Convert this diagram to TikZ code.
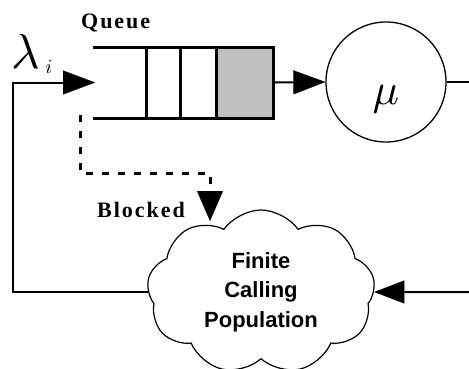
\documentclass[tikz,border=0pt]{standalone}
\usepackage{fontspec}
\usepackage{tikz}
\usetikzlibrary{arrows.meta,positioning,calc,shapes.symbols}
\newfontfamily\tmsfont[LetterSpace=9]{Liberation Serif}
\newfontfamily\arfont{Liberation Sans}
\definecolor{shade}{RGB}{192,192,192}
\tikzset{
  qline/.style={line width=3pt},
  slot/.style={draw,line width=3pt,fill=shade,minimum width=57pt,minimum height=71pt,inner sep=0pt},
  srv/.style={circle,draw,line width=1.3pt,minimum size=120pt,inner sep=0pt},
  pop/.style={cloud,cloud puffs=9,cloud puff arc=110,cloud ignores aspect,draw,line width=1.2pt,
    minimum width=228pt,minimum height=164pt,align=center,
    font=\arfont\bfseries\fontsize{22}{29.5}\selectfont},
  link/.style={line width=2pt},
  arr/.style={line width=2pt,-{Triangle[length=32pt,width=24pt,line width=0.1pt]}},
  blk/.style={line width=3pt,dash pattern=on 7pt off 9pt,-{Triangle[length=30pt,width=26pt,line width=0.1pt]}},
  lbl/.style={font=\tmsfont\bfseries\fontsize{22}{26}\selectfont,inner sep=0pt,anchor=base west},
  sym/.style={inner sep=0pt,anchor=base west},
}
\begin{document}
\begin{tikzpicture}[x=1pt,y=-1pt]
\useasboundingbox (0,0) rectangle (469,368);
% queue
\node[slot] (last) at (244.5,82.5) {};
\coordinate (qtop) at (93,47);
\coordinate (qbot) at (93,118);
\draw[qline] (qtop) -- (qtop -| last.west);
\draw[qline] (qbot) -- (qbot -| last.west);
\foreach \x in {146,180} \draw[qline] (\x,47) -- (\x,118);
\node[lbl] (qlbl) at (81,28) {Queue};
% server
\node[srv] (srv) at (386,82) {};
\node[scale=4.4] (mu) at (386,99) {$\mu$};
% calling population
\node[pop] (pop) at (261,292) {Finite\\Calling\\Population};
\node[lbl] (blbl) at (97,217) {Blocked};
\node[sym,scale=4.9] (lam) at (11,68) {$\lambda$};
\node[sym,scale=2] (idx) at (45,73) {$i$};
% arrivals
\coordinate (lft) at (13,82.5);
\coordinate (qin) at (95,82.5);
\draw[arr] (pop.west) -| (lft) -- (qin);
\draw[arr] (last.east) -- (srv.west);
% departures back to the population
\coordinate (rtop) at (469,82);
\coordinate (rbot) at (469,292);
\draw[link] (srv.east) -- (rtop);
\draw[link,-{Triangle[length=30pt,width=23pt,line width=0.1pt]}] (rbot) -- (pop.east);
% blocked calls
\coordinate (dsrc) at (80,115);
\coordinate (dtip) at (210,221);
\draw[blk] (dsrc) -- ++(0,58) -| (dtip);
\end{tikzpicture}
\end{document}
